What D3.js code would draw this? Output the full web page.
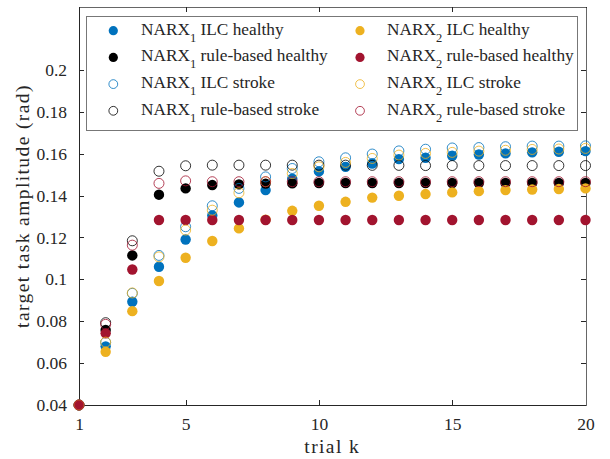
<!DOCTYPE html>
<html><head><meta charset="utf-8">
<script src="https://cdn.jsdelivr.net/npm/d3@7"></script>
<style>body{margin:0;background:#fff;} svg{display:block;}</style>
</head><body><svg id="c" width="610" height="459"></svg>
<script>
const trials = [1,2,3,4,5,6,7,8,9,10,11,12,13,14,15,16,17,18,19,20];
const xTicks = [1,5,10,15,20];
const yTicks = [0.04,0.06,0.08,0.1,0.12,0.14,0.16,0.18,0.2];
const yTickLabels = ["0.04","0.06","0.08","0.1","0.12","0.14","0.16","0.18","0.2"];

const narx1IlcHealthy  = [0.040,0.068,0.0893,0.106,0.119,0.1305,0.1367,0.1426,0.148,0.1515,0.1537,0.1553,0.1574,0.158,0.159,0.1596,0.1601,0.1606,0.1609,0.1612];
const narx1RuleHealthy = [0.040,0.0758,0.1114,0.1404,0.1434,0.145,0.1453,0.1457,0.1458,0.146,0.146,0.146,0.146,0.146,0.146,0.146,0.146,0.146,0.146,0.146];
const narx1IlcStroke   = [0.040,0.0699,0.0933,0.1114,0.1251,0.1351,0.1434,0.1489,0.1529,0.1561,0.158,0.1598,0.1613,0.1621,0.1627,0.1629,0.1633,0.1636,0.1636,0.1637];
const narx1RuleStroke  = [0.040,0.0793,0.1184,0.1516,0.1542,0.1545,0.1545,0.1545,0.1545,0.1545,0.1545,0.1544,0.1544,0.1543,0.1543,0.1543,0.1543,0.1543,0.1543,0.1543];
const narx2IlcHealthy  = [0.040,0.0654,0.0848,0.0992,0.1103,0.1183,0.1243,0.1285,0.1327,0.1351,0.137,0.139,0.1399,0.1407,0.1415,0.1421,0.1426,0.1429,0.1431,0.1434];
const narx2RuleHealthy = [0.040,0.0742,0.1047,0.1283,0.1283,0.1283,0.1283,0.1283,0.1283,0.1283,0.1283,0.1283,0.1283,0.1283,0.1283,0.1283,0.1283,0.1283,0.1283,0.1283];
const narx2IlcStroke   = [0.040,0.070,0.0935,0.1107,0.1235,0.133,0.1413,0.1466,0.1505,0.1537,0.1558,0.1577,0.1593,0.1601,0.1606,0.1612,0.1616,0.162,0.1622,0.1625];
const narx2RuleStroke  = [0.040,0.0785,0.1163,0.1458,0.147,0.1466,0.1466,0.1466,0.1466,0.1466,0.1466,0.1466,0.1466,0.1466,0.1466,0.1466,0.1466,0.1466,0.1466,0.1466];

const seriesNames = ["ILC healthy","rule-based healthy","ILC stroke","rule-based stroke","ILC healthy","rule-based healthy","ILC stroke","rule-based stroke"];
const seriesModel = ["1","1","1","1","2","2","2","2"];
const seriesValues = [narx1IlcHealthy,narx1RuleHealthy,narx1IlcStroke,narx1RuleStroke,narx2IlcHealthy,narx2RuleHealthy,narx2IlcStroke,narx2RuleStroke];
const seriesColors = ["#0072BD","#000000","#0072BD","#000000","#EDB120","#A2142F","#EDB120","#A2142F"];
const seriesFilled = [true,true,false,false,true,true,false,false];

(function(){
const svg = d3.select("#c");
const FONT = '"Liberation Serif"';
const TXT = "#262626";
const L=79, R=585.5, T=7, B=405;
const x = d3.scaleLinear().domain([1,20]).range([L,R]);
const y = d3.scaleLinear().domain([0.04,0.23]).range([B,T]);

const axG = svg.append("g");
const axBottom = axG.append("g").attr("transform",`translate(0,${B})`)
  .call(d3.axisBottom(x).tickValues(xTicks).tickSizeInner(-5).tickSizeOuter(0).tickPadding(13).tickFormat(d3.format("d")));
const axTop = axG.append("g").attr("transform",`translate(0,${T})`)
  .call(d3.axisTop(x).tickValues(xTicks).tickSizeInner(-5).tickSizeOuter(0).tickFormat(""));
const axLeft = axG.append("g").attr("transform",`translate(${L},0)`)
  .call(d3.axisLeft(y).tickValues(yTicks).tickSizeInner(-5).tickSizeOuter(0).tickPadding(12).tickFormat((d,i)=>yTickLabels[i]));
const axRight = axG.append("g").attr("transform",`translate(${R},0)`)
  .call(d3.axisRight(y).tickValues(yTicks).tickSizeInner(-5).tickSizeOuter(0).tickFormat(""));
axG.selectAll("path.domain").attr("stroke","#262626").attr("stroke-width",1).attr("shape-rendering","crispEdges");
axG.selectAll(".tick line").attr("stroke","#262626").attr("shape-rendering","crispEdges");
axG.selectAll(".tick text").style("font-family",FONT).style("font-size","17.5px").attr("fill",TXT);
axTop.selectAll("path.domain").attr("stroke","#666");
axRight.selectAll("path.domain").attr("stroke","#666");

svg.append("text").attr("x",(L+R)/2).attr("y",453).attr("text-anchor","middle")
  .style("font-family",FONT).style("font-size","19.5px").style("letter-spacing","1.4px").attr("fill",TXT).text("trial k");
svg.append("text").attr("transform",`translate(29,${(T+B)/2}) rotate(-90)`).attr("text-anchor","middle")
  .style("font-family",FONT).style("font-size","19.5px").style("letter-spacing","1.4px").attr("fill",TXT).text("target task amplitude (rad)");

const plotG = svg.append("g");
seriesValues.forEach((vals,si)=>{
  plotG.append("g").selectAll("circle").data(trials.map((t,i)=>({t,v:vals[i]}))).join("circle")
    .attr("cx",d=>x(d.t)).attr("cy",d=>y(d.v))
    .attr("r",seriesFilled[si]?5.2:5)
    .attr("fill",seriesFilled[si]?seriesColors[si]:"none")
    .attr("stroke",seriesFilled[si]?"none":seriesColors[si])
    .attr("stroke-width",1)
    .attr("stroke-opacity",seriesFilled[si]?1:0.8);
});

const lg = svg.append("g");
lg.append("rect").attr("x",86.5).attr("y",16.5).attr("width",491).attr("height",113.5)
  .attr("fill","#fff").attr("stroke","#777").attr("stroke-width",1).attr("shape-rendering","crispEdges");
const rowY = [30.7,57.4,84.1,110.8];
const colMarkX = [113.3,360];
const colTextX = [141,387];
seriesValues.forEach((vals,si)=>{
  const col = Math.floor(si/4), row = si%4;
  lg.append("circle").attr("cx",colMarkX[col]).attr("cy",rowY[row]).attr("r",seriesFilled[si]?4.6:4.4)
    .attr("fill",seriesFilled[si]?seriesColors[si]:"none")
    .attr("stroke",seriesFilled[si]?"none":seriesColors[si]).attr("stroke-width",1)
    .attr("stroke-opacity",seriesFilled[si]?1:0.8);
  const t = lg.append("text").attr("x",colTextX[col]).attr("y",rowY[row]+4)
    .style("font-family",FONT).style("font-size","17.3px").attr("fill",TXT);
  t.append("tspan").text("NARX");
  t.append("tspan").attr("dy",7).style("font-size","12.5px").text(seriesModel[si]);
  t.append("tspan").attr("dy",-7).text(" "+seriesNames[si]);
});
})();
</script></body></html>
